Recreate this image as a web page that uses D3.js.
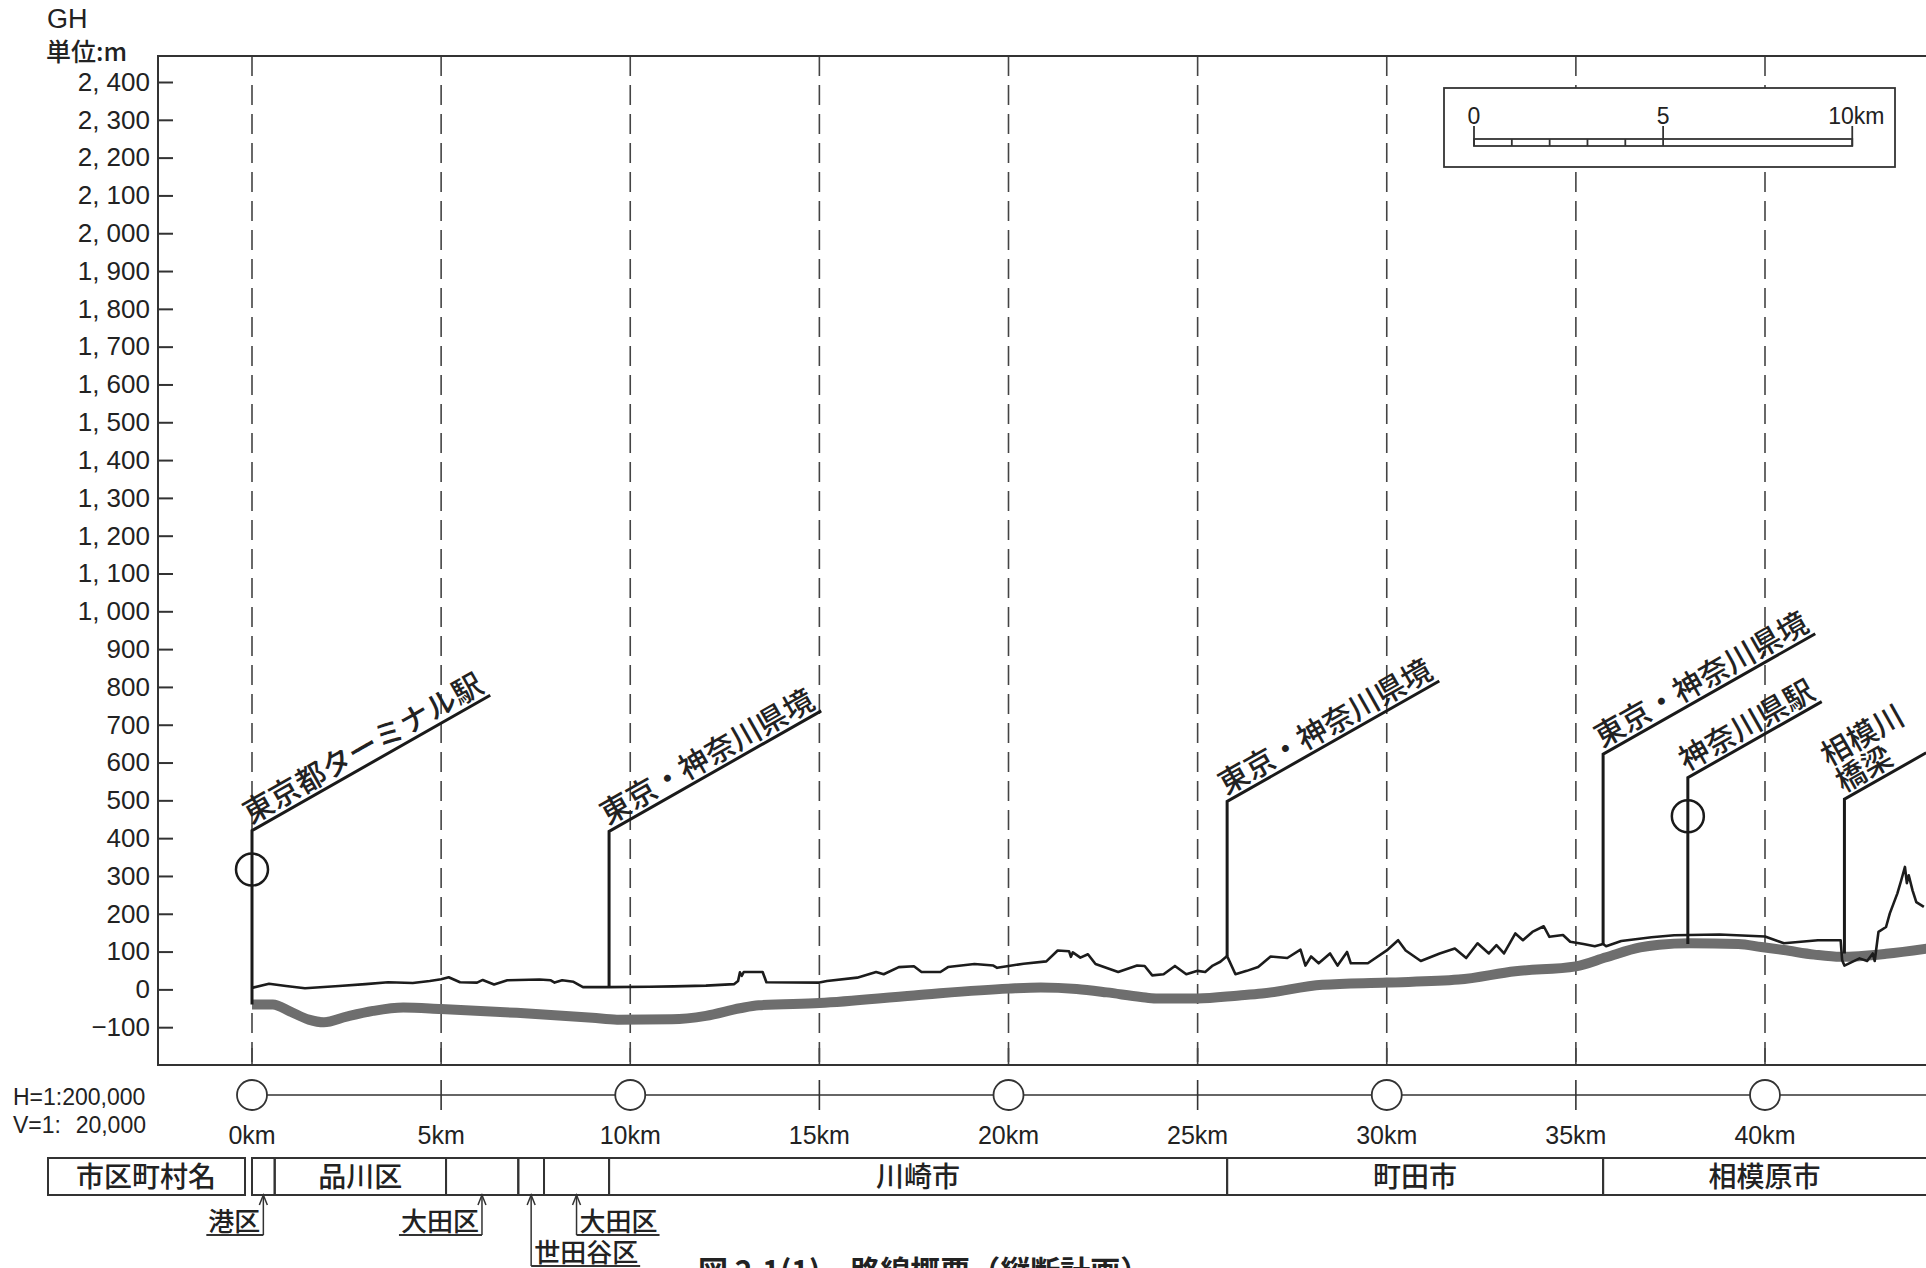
<!DOCTYPE html>
<html>
<head>
<meta charset="utf-8">
<title>路線概要（縦断計画）</title>
<script src="https://d3js.org/d3.v7.min.js"></script>
<style>
  body { margin: 0; background: #fff; }
  svg { display: block; }
  .num { font-family: "Liberation Sans", Arial, sans-serif; fill: #222; }
  .jp { font-family: "Noto Sans CJK JP", sans-serif; fill: #222; font-weight: 500; }
</style>
</head>
<body>
<div id="plot"></div>
<script>
// elevation ticks (m) and distance ticks (km)
var yTicks = [-100, 0, 100, 200, 300, 400, 500, 600, 700, 800, 900, 1000, 1100, 1200,
              1300, 1400, 1500, 1600, 1700, 1800, 1900, 2000, 2100, 2200, 2300, 2400]
var kmTicks = [0, 5, 10, 15, 20, 25, 30, 35, 40]
var kmCircles = [0, 10, 20, 30, 40]
var scaleBarTicks = [0, 1, 2, 3, 4, 5, 10]
var scaleBarLabels = [[0, '0'], [5, '5'], [10, '10km']]

// ground surface (km, m)
var ground = [[0,4],[0.45,15],[0.9,9],[1.4,3],[2.3,9],[3.0,14],[3.6,19],[4.25,17],[4.7,22],[5.0,27],
  [5.2,32],[5.5,19],[5.95,18],[6.1,25],[6.4,13],[6.75,24],[7.6,26],[7.9,24],[8.0,18],[8.2,24],[8.5,20],
  [8.75,6],[9.44,6],[10.5,7],[11.15,8],[12.0,10],[12.75,14],[12.85,22],[12.9,45],[12.95,36],[13.0,46],
  [13.5,46],[13.6,19],[15.0,18],[15.2,22],[16.0,31],[16.5,46],[16.7,40],[17.1,59],[17.5,61],[17.7,46],
  [18.2,46],[18.4,59],[19.1,67],[19.6,63],[19.7,57],[20.0,62],[20.4,68],[21.0,74],[21.3,103],[21.6,101],
  [21.65,86],[21.7,98],[21.9,84],[22.1,93],[22.3,67],[22.9,46],[23.4,63],[23.6,62],[23.8,37],[24.1,40],
  [24.4,62],[24.7,40],[25.0,49],[25.2,46],[25.4,63],[25.6,73],[25.78,88],[26.0,40],[26.3,49],[26.6,59],
  [26.93,87],[27.37,83],[27.72,105],[27.85,63],[28.0,87],[28.2,69],[28.5,95],[28.7,63],[28.95,99],
  [29.05,69],[29.5,69],[30.0,103],[30.3,130],[30.5,103],[30.9,75],[31.4,95],[31.8,108],[32.1,83],
  [32.4,122],[32.7,95],[32.9,117],[33.1,95],[33.4,148],[33.6,130],[33.85,152],[34.15,167],[34.3,139],
  [34.66,144],[34.85,126],[35.2,120],[35.5,114],[35.72,120],[35.8,114],[36.2,128],[37.0,138],[37.6,143],
  [38.8,145],[40.0,140],[40.5,122],[41.4,130],[42.0,130],[42.04,77],[42.1,63],[42.5,82],[42.7,75],
  [42.85,95],[42.9,75],[43.0,152],[43.2,165],[43.3,201],[43.5,254],[43.6,288],[43.7,324],[43.75,281],
  [43.8,302],[43.9,262],[44.0,231],[44.2,218]]

// planned route (km, m)
var route = [[0,-40],[0.55,-40],[1.0,-58],[1.5,-80],[1.9,-87],[2.5,-72],[3.2,-57],[4.0,-48],[5.0,-52],
  [7.0,-62],[9.0,-75],[9.65,-80],[11.1,-79],[12.0,-70],[12.9,-50],[13.4,-42],[15.0,-36],[17.5,-16],
  [20.0,2],[20.85,5],[21.8,1],[22.6,-8],[23.5,-20],[23.9,-24],[25.0,-24],[26.1,-16],[26.7,-11],
  [28.3,12],[30.0,18],[31.9,26],[33.4,48],[35.0,61],[35.8,85],[36.7,111],[37.2,118],[38.0,122],
  [39.3,120],[39.9,112],[40.5,104],[41.3,92],[42.0,86],[43.2,94],[44.3,108]]

// leader callouts: km, foot (m), head (m), station circle (m)
var markers = [
  {km: 0,     bottom: -40, top: 420, station: 317, label: ['東京都ターミナル駅']},
  {km: 9.44,  bottom: 6,   top: 418, label: ['東京・神奈川県境']},
  {km: 25.78, bottom: 88,  top: 497, label: ['東京・神奈川県境']},
  {km: 35.72, bottom: 118, top: 622, label: ['東京・神奈川県境']},
  {km: 37.96, bottom: 120, top: 560, station: 458, label: ['神奈川県駅']},
  {km: 42.1,  bottom: 95,  top: 503, label: ['相模川', '橋梁']}
]

// municipalities along the route (km)
var muniFrom = [0, 0.6, 5.13, 7.04, 7.72, 9.44, 25.78, 35.72]
var muniTo   = [0.6, 5.13, 7.04, 7.72, 9.44, 25.78, 35.72, 46]
var muniName = ['', '品川区', '', '', '', '川崎市', '町田市', '相模原市']
var smallNames = ['港区', '大田区', '世田谷区', '大田区']
var smallKm    = [0.3, 6.08, 7.38, 8.58]
var smallSide  = ['left', 'left', 'right', 'right']
var smallRow   = [0, 0, 1, 0]

var W = 1926, H = 1268
var svg = d3.select('#plot').append('svg').attr('width', W).attr('height', H)
svg.append('rect').attr('width', W).attr('height', H).attr('fill', '#fff')

var xScale = d3.scaleLinear().domain([0, 40]).range([252, 1765])
var yScale = d3.scaleLinear().domain([-200, 2400]).range([1065, 82])
var frameLeft = 158, frameTop = 56, frameBottom = yScale(-200)

// dashed km lines
svg.selectAll('.grid').data(kmTicks).enter().append('line')
  .attr('class', 'grid')
  .attr('x1', d => xScale(d)).attr('x2', d => xScale(d))
  .attr('y1', frameTop).attr('y2', frameBottom)
  .attr('stroke', '#444').attr('stroke-width', 1.6).attr('stroke-dasharray', '20,9')
svg.selectAll('.btick').data(kmTicks).enter().append('line')
  .attr('x1', d => xScale(d)).attr('x2', d => xScale(d))
  .attr('y1', frameBottom - 17).attr('y2', frameBottom)
  .attr('stroke', '#444').attr('stroke-width', 1.6)

// frame
svg.append('path')
  .attr('d', 'M' + W + ',' + frameTop + 'H' + frameLeft + 'V' + frameBottom + 'H' + W)
  .attr('fill', 'none').attr('stroke', '#333').attr('stroke-width', 2)

// y axis
var fmt = function(v){ return d3.format(',')(v).replace(',', ', ') }
svg.append('g').attr('transform', 'translate(' + frameLeft + ',0)')
  .call(d3.axisLeft(yScale).tickValues(yTicks).tickSize(-15).tickPadding(8).tickFormat(fmt))
  .call(g => g.select('.domain').remove())
  .call(g => g.selectAll('line').attr('stroke', '#333').attr('stroke-width', 2))
  .call(g => g.selectAll('text').attr('class', 'num').style('font-size', '26px'))

svg.append('text').attr('class', 'num').attr('x', 47).attr('y', 28)
  .style('font-size', '27px').text('GH')
svg.append('text').attr('class', 'jp').attr('x', 46).attr('y', 61)
  .style('font-size', '25px').text('単位:m')

// route and ground
svg.append('path').datum(route)
  .attr('d', d3.line().x(d => xScale(d[0])).y(d => yScale(d[1])).curve(d3.curveMonotoneX))
  .attr('fill', 'none').attr('stroke', '#6e6e6e').attr('stroke-width', 10)
svg.append('path').datum(ground)
  .attr('d', d3.line().x(d => xScale(d[0])).y(d => yScale(d[1])))
  .attr('fill', 'none').attr('stroke', '#1c1c1c').attr('stroke-width', 2.6)
  .attr('stroke-linejoin', 'round')

// callouts
var labelSize = 30
var ang = 29.6, ca = Math.cos(ang * Math.PI / 180), sa = Math.sin(ang * Math.PI / 180)
markers.forEach(function(m){
  var x = xScale(m.km), y0 = yScale(m.bottom), y1 = yScale(m.top)
  var len = d3.max(m.label, s => s.length) * labelSize + 4
  svg.append('path')
    .attr('d', 'M' + x + ',' + y0 + 'V' + y1 + 'L' + (x + len * ca) + ',' + (y1 - len * sa))
    .attr('fill', 'none').attr('stroke', '#1a1a1a').attr('stroke-width', 3)
  var n = m.label.length
  m.label.forEach(function(s, i){
    svg.append('text').attr('class', 'jp')
      .attr('transform', 'translate(' + x + ',' + y1 + ') rotate(' + (-ang) + ')')
      .attr('x', 2).attr('y', -6 - (n - 1 - i) * 30)
      .style('font-size', labelSize + 'px').text(s)
  })
  if (m.station != null) {
    svg.append('circle').attr('cx', x).attr('cy', yScale(m.station)).attr('r', 16)
      .attr('fill', 'none').attr('stroke', '#1a1a1a').attr('stroke-width', 2.5)
  }
})

// scale bar
var sb = svg.append('g')
sb.append('rect').attr('x', 1444).attr('y', 88).attr('width', 451).attr('height', 79)
  .attr('fill', '#fff').attr('stroke', '#333').attr('stroke-width', 1.8)
var bx = 1474, bw = function(k){ return xScale(k) - xScale(0) }
sb.append('rect').attr('x', bx).attr('y', 139).attr('width', bw(10)).attr('height', 7)
  .attr('fill', 'none').attr('stroke', '#333').attr('stroke-width', 1.8)
sb.selectAll('.sbt').data(scaleBarTicks).enter().append('line')
  .attr('x1', d => bx + bw(d)).attr('x2', d => bx + bw(d))
  .attr('y1', d => (d % 5 === 0) ? 126 : 139).attr('y2', 146)
  .attr('stroke', '#333').attr('stroke-width', 1.8)
sb.selectAll('.sbl').data(scaleBarLabels).enter().append('text')
  .attr('class', 'num').style('font-size', '23px')
  .attr('x', d => d[0] === 10 ? bx + bw(d[0]) - 24 : bx + bw(d[0]))
  .attr('y', 124)
  .attr('text-anchor', d => d[0] === 10 ? 'start' : 'middle')
  .text(d => d[1])

// circle / km row
var rowY = 1095
svg.append('line').attr('x1', xScale(0)).attr('x2', W).attr('y1', rowY).attr('y2', rowY)
  .attr('stroke', '#333').attr('stroke-width', 1.6)
svg.selectAll('.rt').data(kmTicks.filter(d => kmCircles.indexOf(d) < 0)).enter().append('line')
  .attr('x1', d => xScale(d)).attr('x2', d => xScale(d)).attr('y1', rowY - 15).attr('y2', rowY + 15)
  .attr('stroke', '#333').attr('stroke-width', 1.6)
svg.selectAll('.rc').data(kmCircles).enter().append('circle')
  .attr('cx', d => xScale(d)).attr('cy', rowY).attr('r', 15)
  .attr('fill', '#fff').attr('stroke', '#333').attr('stroke-width', 1.8)
svg.selectAll('.kml').data(kmTicks).enter().append('text')
  .attr('class', 'num').style('font-size', '25px')
  .attr('x', d => xScale(d)).attr('y', 1144).attr('text-anchor', 'middle')
  .text(d => d + 'km')

svg.append('text').attr('class', 'num').style('font-size', '23px')
  .attr('x', 13).attr('y', 1105).text('H=1:200,000')
svg.append('text').attr('class', 'num').style('font-size', '23px')
  .attr('x', 13).attr('y', 1133).text('V=1:')
svg.append('text').attr('class', 'num').style('font-size', '23px')
  .attr('x', 146).attr('y', 1133).attr('text-anchor', 'end').text('20,000')

// municipality row
var boxTop = 1158, boxBot = 1195
svg.append('rect').attr('x', 48).attr('y', boxTop).attr('width', 197).attr('height', boxBot - boxTop)
  .attr('fill', 'none').attr('stroke', '#333').attr('stroke-width', 2)
svg.append('text').attr('class', 'jp').style('font-size', '28px')
  .attr('x', 146).attr('y', 1187).attr('text-anchor', 'middle').text('市区町村名')
svg.selectAll('.mb').data(muniFrom).enter().append('rect')
  .attr('x', (d, i) => xScale(d)).attr('y', boxTop)
  .attr('width', (d, i) => xScale(muniTo[i]) - xScale(d)).attr('height', boxBot - boxTop)
  .attr('fill', 'none').attr('stroke', '#333').attr('stroke-width', 2)
svg.selectAll('.mn').data(muniName).enter().append('text')
  .attr('class', 'jp').style('font-size', '28px')
  .attr('x', (d, i) => (xScale(muniFrom[i]) + Math.min(xScale(muniTo[i]), W)) / 2)
  .attr('y', 1187).attr('text-anchor', 'middle').text(d => d)

// small municipality pointers
smallNames.forEach(function(s, i){
  var x = xScale(smallKm[i])
  var base = smallRow[i] === 0 ? 1231 : 1262
  var uy = base + 4
  var left = smallSide[i] === 'left'
  var t = svg.append('text').attr('class', 'jp').style('font-size', '26px')
    .attr('x', left ? x - 3 : x + 3).attr('y', base)
    .attr('text-anchor', left ? 'end' : 'start').text(s)
  var tw = t.node().getComputedTextLength()
  svg.append('line').attr('x1', left ? x - tw - 5 : x).attr('x2', left ? x : x + tw + 5)
    .attr('y1', uy).attr('y2', uy).attr('stroke', '#333').attr('stroke-width', 1.8)
  svg.append('line').attr('x1', x).attr('x2', x).attr('y1', boxBot).attr('y2', uy)
    .attr('stroke', '#333').attr('stroke-width', 1.5)
  svg.append('path').attr('d', 'M' + (x - 4) + ',' + (boxBot + 10) + 'L' + x + ',' + boxBot + 'L' + (x + 4) + ',' + (boxBot + 10))
    .attr('fill', 'none').attr('stroke', '#333').attr('stroke-width', 1.5)
})

// caption (cut off by the page bottom as in the source)
svg.append('text').attr('class', 'jp').style('font-size', '30px').style('font-weight', 'bold')
  .attr('x', 698).attr('y', 1282).text('図 2.1(1)　路線概要（縦断計画）')
</script>
</body>
</html>
